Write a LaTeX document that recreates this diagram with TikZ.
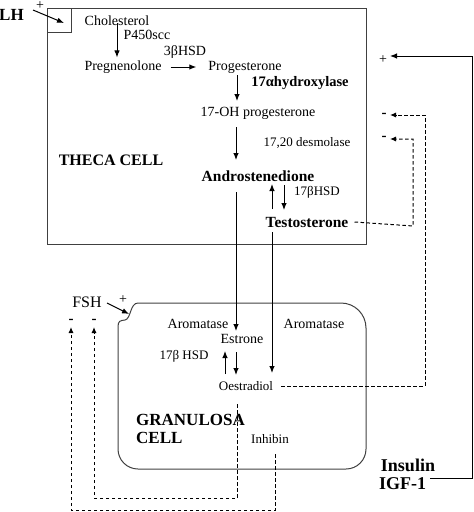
\documentclass[tikz,border=0pt]{standalone}
\usepackage{fontspec}
\setmainfont{Liberation Serif}
\usetikzlibrary{arrows.meta,calc}
\begin{document}
\begin{tikzpicture}[x=1pt,y=-1pt,
  txt/.style={inner sep=0pt,font=\fontsize{14}{16}\selectfont},
  stxt/.style={inner sep=0pt,font=\fontsize{13}{15}\selectfont},
  btxt/.style={inner sep=0pt,font=\fontsize{15.5}{18}\selectfont\bfseries},
  arr/.style={-{Latex[length=7pt,width=5.5pt]},line width=1pt},
  dsh/.style={line width=1pt,dash pattern=on 3.5pt off 2.5pt},
  dsharr/.style={dsh,-{Latex[length=6pt,width=5pt]}},
  box/.style={line width=1pt,draw=black!75},
  sgn/.style={inner sep=0pt,font=\fontsize{14}{14}\selectfont},
  msgn/.style={inner sep=0pt,font=\fontsize{15}{15}\selectfont\bfseries}]
\useasboundingbox (0,0) rectangle (474,512);

% Theca cell
\node[box,draw,rectangle,inner sep=0pt,minimum width=319pt,minimum height=236pt] (theca) at (206.5,126) {};
\node[draw=black!75,line width=0.6pt,inner sep=0pt,minimum size=24pt] (sq) at (59,20) {};
\node[btxt,font=\fontsize{17}{18}\selectfont\bfseries,anchor=east] (lh) at (24,15) {LH};
\node[sgn] (lhp) at (40,6) {+};
\coordinate (lhs) at (33,10);
\coordinate (lhe) at (64,23);
\draw[arr] (lhs) -- (lhe);

\node[txt] (chol) at (117,21) {Cholesterol};
\node[txt] (p450) at (147,35) {P450scc};
\node[txt] (hsd3) at (185,52) {3βHSD};
\node[txt] (preg) at (123,67) {Pregnenolone};
\node[txt] (prog) at (245,67) {Progesterone};
\node[btxt,font=\fontsize{14.5}{16}\selectfont\bfseries] (hyd) at (300,83) {17αhydroxylase};
\node[txt] (ohp) at (258,113) {17-OH progesterone};
\node[stxt] (desm) at (307,143) {17,20 desmolase};
\node[btxt] (andro) at (258,176) {Androstenedione};
\node[stxt] (hsd17) at (317,192) {17βHSD};
\node[btxt] (testo) at (307,222) {Testosterone};
\node[btxt,font=\fontsize{16}{18}\selectfont\bfseries] (thecal) at (111,160) {THECA CELL};

\draw[arr] ([yshift=3pt]chol.south) -- ([yshift=3pt]chol.south |- preg.north);
\draw[arr] ([xshift=9pt]preg.east) -- ([xshift=-12pt]prog.west);
\coordinate (a1) at (237,75);
\coordinate (a1e) at (237,101);
\draw[arr] (a1) -- (a1e);
\coordinate (a2) at (236,127);
\coordinate (a2e) at (236,160);
\draw[arr] (a2) -- (a2e);
\coordinate (a3) at (272,209);
\coordinate (a4) at (284,185);
\draw[arr] (a3) -- (272,184);
\draw[arr] (a4) -- (284,210);

% right side regulation
\coordinate (rtop) at (472,56);
\coordinate (rbot) at (472,478);
\node[sgn] (pl) at (383,60) {+};
\node[btxt,font=\fontsize{18}{20}\selectfont\bfseries] (ins) at (408,465) {Insulin};
\node[btxt,font=\fontsize{18}{20}\selectfont\bfseries,anchor=west] (igf) at (379,484) {IGF-1};
\draw[arr] (igf.east |- rbot) ++(4,0) -- (rbot) -- (rtop) -- (390,56);

\node[msgn] (m1) at (384,115) {-};
\node[msgn] (m2) at (384,138) {-};

% Granulosa cell
\draw[box] (138,303) -- (341,303) arc[start angle=-90,end angle=0,radius=25] -- (366,449)
  arc[start angle=0,end angle=90,radius=20] -- (138,469)
  arc[start angle=90,end angle=180,radius=20] -- (118,327)
  .. controls (118,321) and (120,320.5) .. (125,320)
  .. controls (131,319) and (130,303) .. (138,303);

\node[btxt,font=\fontsize{16}{18}\selectfont] (fsh) at (87,302) {FSH};
\node[sgn] (fshp) at (123,300) {+};
\coordinate (fs) at (107,303);
\coordinate (fe) at (129,314);
\draw[arr] (fs) -- (fe);

\node[txt] (arom1) at (198,324) {Aromatase};
\node[txt] (arom2) at (314,324) {Aromatase};
\node[txt] (estr) at (242,339) {Estrone};
\node[stxt] (hsdb) at (184,356) {17β HSD};
\node[stxt] (oest) at (246,386) {Oestradiol};
\node[btxt,font=\fontsize{17}{18}\selectfont\bfseries,anchor=west] (gran) at (136,420) {GRANULOSA};
\node[btxt,font=\fontsize{17}{18}\selectfont\bfseries,anchor=west] (cell) at (136,438) {CELL};
\node[stxt] (inh) at (270,439) {Inhibin};

\coordinate (l1) at (236,192);
\coordinate (l2) at (272,232);
\draw[arr] (l1) -- (236,331);
\draw[arr] (l2) -- (272,373);
\draw[arr] (225,374) -- (225,351);
\draw[arr] (236,352) -- (236,375);

\node[msgn] (m3) at (94,321) {-};
\node[msgn] (m4) at (71,321) {-};

% dashed feedback
\coordinate (d1) at (413,226);
\coordinate (d2) at (425,386);
\coordinate (g1) at (237,404);
\coordinate (g2) at (275,454);
\draw[dsharr] ([xshift=6pt]testo.east) -- (d1) -- (413,139) -- (390,139);
\draw[dsharr] ([xshift=8pt]oest.east) -- (d2) -- (425,115) -- (390,115);
\draw[dsharr] (g1) -- (237,498) -- (94,498) -- (94,327);
\draw[dsharr] (g2) -- (275,510) -- (71,510) -- (71,327);
\end{tikzpicture}
\end{document}
